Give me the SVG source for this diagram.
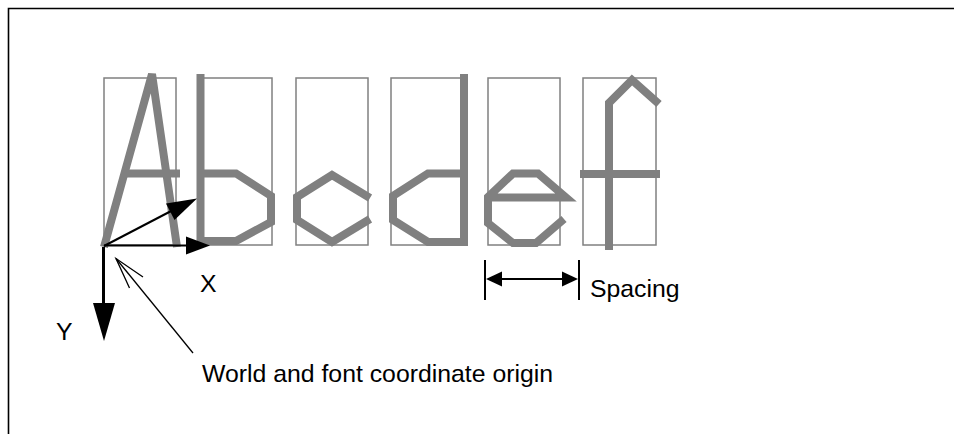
<svg xmlns="http://www.w3.org/2000/svg" width="954" height="434" viewBox="0 0 954 434">
  <style>
    .frame { fill: none; stroke: #000; stroke-width: 1.6; }
    .cell { fill: none; stroke: #808080; stroke-width: 1.5; }
    .glyph { fill: none; stroke: #808080; stroke-width: 8; stroke-linecap: butt; stroke-linejoin: miter; stroke-miterlimit: 10; }
    .apex { stroke-linejoin: bevel; }
    .axis { fill: none; stroke: #000; stroke-width: 2; }
    .head { fill: #000; stroke: none; }
    .thin { fill: none; stroke: #000; stroke-width: 1.3; }
    .label { font-family: "Liberation Sans", Arial, sans-serif; font-size: 24.8px; fill: #000; }
  </style>

  <!-- page frame -->
  <path class="frame" d="M8.5,434 V8.5 H954"/>

  <!-- character cells -->
  <g id="cells">
    <rect class="cell" x="104" y="78" width="72" height="167"/>
    <rect class="cell" x="198" y="78" width="74" height="167"/>
    <rect class="cell" x="296" y="78" width="72" height="167"/>
    <rect class="cell" x="391" y="78" width="72" height="167"/>
    <rect class="cell" x="488" y="78" width="72" height="167"/>
    <rect class="cell" x="583" y="78" width="73" height="167"/>
  </g>

  <!-- stroked glyphs -->
  <g id="glyph-A">
    <path class="glyph apex" d="M104,247 L152,74 L177,247"/>
    <path class="glyph" d="M124,173.5 H180"/>
  </g>
  <g id="glyph-b">
    <path class="glyph" d="M200.5,74 V245"/>
    <path class="glyph" d="M200,173.5 H236 L271,196 V222 L236,241 H200"/>
  </g>
  <g id="glyph-c">
    <path class="glyph" d="M370,198 L332,175 L297,197 V220 L332,242 L370,219"/>
  </g>
  <g id="glyph-d">
    <path class="glyph" d="M464,74 V246"/>
    <path class="glyph" d="M464,173.5 H428 L393,196 V220 L428,242 H464"/>
  </g>
  <g id="glyph-e">
    <path class="glyph" d="M488,197.5 H566 L538,173.5 H513 L488,197 V223 L513,243 H536 L564,219"/>
  </g>
  <g id="glyph-f">
    <path class="glyph" d="M609,250 V103 L632,80 L659,104"/>
    <path class="glyph" d="M580,174 H660"/>
  </g>

  <!-- axes, baseline vector and dimension -->
  <g id="connectors">
    <!-- X axis -->
    <line class="axis" x1="104" y1="245.5" x2="190" y2="245.5"/>
    <polygon class="head" points="186,236.5 210,245.5 186,254.5"/>
    <!-- diagonal vector -->
    <line class="axis" x1="104" y1="246" x2="175" y2="209"/>
    <polygon class="head" points="166,203.5 197,198.5 174.5,220"/>
    <!-- Y axis -->
    <line class="axis" x1="103.5" y1="247" x2="103.5" y2="305" style="stroke-width:3"/>
    <polygon class="head" points="93,303 115,303 104,341"/>
    <!-- pointer to origin -->
    <line class="thin" x1="193" y1="353" x2="116" y2="258.5"/>
    <path class="thin" d="M143,277 L116,258.5 L129.5,288"/>
    <!-- spacing dimension -->
    <line class="axis" x1="485" y1="260" x2="485" y2="300"/>
    <line class="axis" x1="579" y1="260" x2="579" y2="300"/>
    <line class="axis" x1="495" y1="279" x2="569" y2="279"/>
    <polygon class="head" points="486,279 502,271.5 502,286.5"/>
    <polygon class="head" points="578,279 562,271.5 562,286.5"/>
  </g>

  <!-- labels -->
  <g id="labels">
    <text class="label" x="200" y="292">X</text>
    <text class="label" x="56" y="340">Y</text>
    <text class="label" x="590" y="297">Spacing</text>
    <text class="label" x="202" y="382">World and font coordinate origin</text>
  </g>
</svg>
